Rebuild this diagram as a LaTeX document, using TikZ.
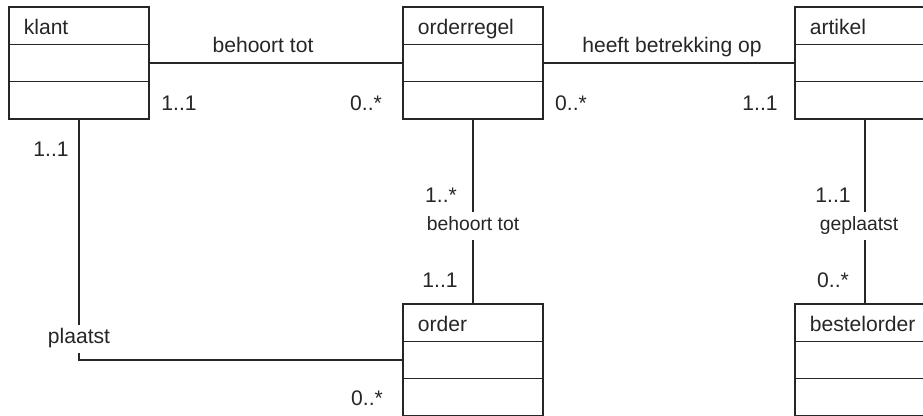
\documentclass[tikz,border=0pt]{standalone}
\usepackage{fontspec}
\setmainfont{Liberation Sans}
\usetikzlibrary{calc}

\tikzset{
  klasse/.style={draw=black!85, line width=0.6pt, minimum width=2.8cm,
    minimum height=2.24cm, inner sep=0pt},
  naam/.style={font=\fontsize{12}{14}\selectfont, text=black!85, inner sep=0pt, anchor=base west},
  mult/.style={font=\fontsize{12}{14}\selectfont, text=black!85, inner sep=0pt, anchor=base},
  rol/.style={font=\fontsize{12}{14}\selectfont, text=black!85, inner sep=0pt, anchor=base},
  oplijn/.style={font=\fontsize{12}{14}\selectfont, text=black!85, fill=white,
    inner sep=0.08cm, text height=0.3cm, text depth=0.1cm},
  klein/.style={font=\fontsize{11}{13}\selectfont},
  lijn/.style={draw=black!85, line width=0.6pt},
}

% klasse met naamvak en twee lege vakken
\newcommand{\klasse}[3]{%
  \node[klasse] (#1) at (#2) {};
  \node[naam] (#1-naam) at ($(#1.north west)+(0.3,-0.56)$) {#3};
  \draw[lijn]
  ($(#1.north west)!1/3!(#1.south west)$) -- ($(#1.north east)!1/3!(#1.south east)$)
  ($(#1.north west)!2/3!(#1.south west)$) -- ($(#1.north east)!2/3!(#1.south east)$);
}

\begin{document}
\begin{tikzpicture}
\useasboundingbox (0,0) rectangle (18.46,-8.3);
\clip (0,0) rectangle (18.46,-8.3);

\klasse{klant}{1.58,-1.26}{klant}
\klasse{orderregel}{9.46,-1.26}{orderregel}
\klasse{artikel}{17.3,-1.26}{artikel}
\klasse{order}{9.46,-7.2}{order}
\klasse{bestelorder}{17.3,-7.2}{bestelorder}

% associaties
\draw[lijn] (klant.east) -- (orderregel.west);
\draw[lijn] (orderregel.east) -- (artikel.west);
\draw[lijn] (orderregel.south) -- node[oplijn, klein, pos=0.578] (behoort) {behoort tot} (order.north);
\draw[lijn] (artikel.south) -- node[oplijn, klein, pos=0.578, xshift=-0.12cm] (geplaatst) {geplaatst} (bestelorder.north);
\draw[lijn] (klant.south) |- node[oplijn, pos=0.456] (plaatst) {plaatst} (order.west);

\node[rol] (rol-kl-or) at (5.26,-1.04) {behoort tot};
\node[rol] (rol-or-ar) at (13.44,-1.04) {heeft betrekking op};

% multipliciteiten
\node[mult] (m1) at (3.58,-2.2) {1..1};
\node[mult] (m2) at (7.32,-2.2) {0..*};
\node[mult] (m3) at (11.42,-2.2) {0..*};
\node[mult] (m4) at (15.2,-2.2) {1..1};
\node[mult] (m5) at (1.02,-3.12) {1..1};
\node[mult] (m6) at (8.82,-4.04) {1..*};
\node[mult] (m7) at (8.8,-5.74) {1..1};
\node[mult] (m8) at (16.66,-4.04) {1..1};
\node[mult] (m9) at (16.66,-5.74) {0..*};
\node[mult] (m10) at (7.34,-8.1) {0..*};
\end{tikzpicture}
\end{document}
